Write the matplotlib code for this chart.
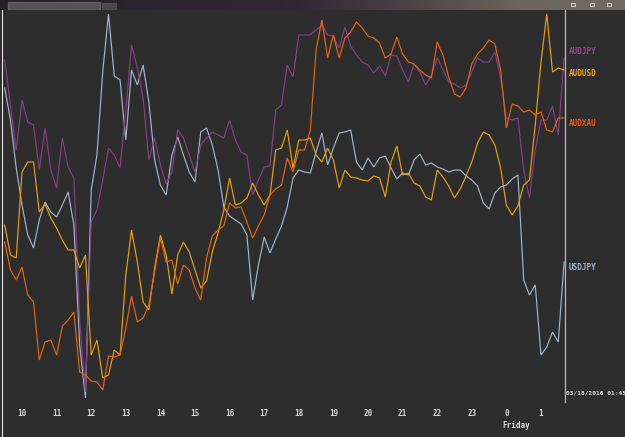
import numpy as np
import pandas as pd
import matplotlib
matplotlib.use("Agg")
import matplotlib.pyplot as plt
from matplotlib.patches import Rectangle

# ---- data (readings are vertical screen positions, larger = lower) ----
times = pd.date_range("2016-03-17 09:30", "2016-03-18 01:40", freq="10min")

usdjpy = [88, 120, 168, 205, 235, 248, 220, 202, 212, 217, 205, 192, 225, 345, 398, 190,
          155, 72, 14, 76, 80, 140, 70, 85, 65, 102, 160, 185, 195, 155, 137, 155,
          172, 182, 132, 128, 145, 170, 207, 216, 220, 224, 235, 300, 265, 237, 253, 239,
          226, 207, 178, 170, 172, 173, 152, 133, 165, 148, 133, 132, 130, 162, 170, 158,
          167, 158, 156, 168, 179, 173, 175, 160, 154, 165, 163, 167, 169, 172, 170, 170,
          176, 180, 186, 203, 209, 193, 187, 185, 179, 175, 280, 295, 285, 355, 347, 332,
          342, 262]

audjpy = [60, 105, 150, 100, 122, 125, 170, 128, 170, 188, 138, 167, 178, 320, 392, 222,
          210, 180, 148, 155, 168, 110, 45, 68, 98, 160, 138, 165, 184, 172, 130, 138,
          155, 172, 145, 138, 132, 135, 138, 120, 140, 152, 155, 195, 180, 167, 166, 110,
          105, 65, 77, 35, 35, 35, 30, 25, 35, 36, 48, 27, 46, 55, 62, 65,
          73, 66, 76, 55, 56, 70, 82, 64, 72, 85, 75, 58, 70, 82, 84, 88,
          85, 72, 58, 62, 62, 52, 78, 118, 120, 118, 170, 198, 150, 120, 120, 106,
          135, 58]

audusd = [225, 255, 258, 172, 162, 162, 212, 204, 218, 228, 240, 250, 250, 268, 255, 355,
          340, 378, 375, 350, 355, 275, 230, 262, 302, 310, 268, 235, 255, 294, 255, 242,
          252, 270, 288, 281, 252, 233, 210, 178, 205, 203, 198, 183, 195, 205, 195, 150,
          148, 130, 168, 140, 140, 138, 155, 162, 148, 160, 188, 170, 177, 178, 180, 181,
          176, 178, 197, 162, 146, 175, 173, 183, 186, 197, 200, 170, 177, 186, 198, 189,
          176, 162, 143, 132, 135, 145, 168, 205, 215, 206, 185, 180, 125, 62, 14, 72,
          68, 70]

audxau = [242, 270, 280, 267, 295, 302, 360, 342, 340, 355, 326, 320, 312, 372, 375, 381,
          382, 390, 356, 357, 355, 328, 296, 322, 318, 305, 272, 238, 262, 260, 284, 265,
          270, 288, 300, 258, 236, 230, 226, 203, 208, 207, 222, 238, 226, 215, 195, 189,
          185, 158, 172, 150, 150, 130, 50, 20, 58, 35, 58, 38, 32, 22, 28, 36,
          38, 43, 58, 54, 37, 54, 62, 64, 70, 75, 78, 42, 55, 77, 94, 97,
          88, 64, 54, 48, 40, 44, 70, 128, 104, 106, 112, 110, 115, 112, 130, 132,
          118, 118]

series_names = ["USDJPY", "AUDJPY", "AUDUSD", "AUDXAU"]
hour_ticks = list(range(10, 26))
hour_labels = ["10", "11", "12", "13", "14", "15", "16", "17", "18", "19",
               "20", "21", "22", "23", "0", "1"]

# ---- styling ----
BG = "#2d2d2d"
colors = {"USDJPY": "#a3b5cc", "AUDJPY": "#853f85", "AUDUSD": "#e9a10e", "AUDXAU": "#e8650f"}
label_y = {"AUDJPY": 52, "AUDUSD": 73, "AUDXAU": 124, "USDJPY": 267}
label_colors = {"USDJPY": "#9fb3d6", "AUDJPY": "#8e4a8e", "AUDUSD": "#f4a318", "AUDXAU": "#f05a14"}
MONO = dict(family="DejaVu Sans Mono", weight="bold")

W, H = 625, 437
fig = plt.figure(figsize=(W / 100, H / 100), dpi=100, facecolor=BG)

# title bar gradient
tb = fig.add_axes([0, 1 - 10 / H, 1, 10 / H])
stops_x = [0, 150, 300, 420, 520, 625]
stops_c = np.array([[38, 34, 40], [44, 36, 46], [52, 38, 52], [80, 70, 72], [108, 102, 92], [112, 106, 96]]) / 255
grad = np.stack([np.interp(np.arange(W), stops_x, stops_c[:, k]) for k in range(3)], axis=-1)
tb.imshow(grad[None, :, :], aspect="auto", extent=[0, W, 10, 0])
tb.add_patch(Rectangle((8, 2), 92, 8, color="#7b7b80", alpha=0.55))
tb.add_patch(Rectangle((102, 3), 14, 7, color="#6a6a70", alpha=0.5))
for bx in (573, 592, 609):
    tb.add_patch(Rectangle((bx - 2, 3), 4, 3, fill=False, ec="#e0e0e0", lw=0.6))
tb.set_xlim(0, W)
tb.set_ylim(10, 0)
tb.axis("off")

# main plot
ax = fig.add_axes([3 / W, 1 - 402 / H, 562 / W, 392 / H])
ax.set_facecolor(BG)
hours = (times - pd.Timestamp("2016-03-17")) / pd.Timedelta(hours=1)
data = {"USDJPY": usdjpy, "AUDJPY": audjpy, "AUDUSD": audusd, "AUDXAU": audxau}
for name in series_names:
    ax.plot(hours, data[name], color=colors[name], lw=0.85, solid_joinstyle="miter")

ax.set_xlim(9.451, 25.694)
ax.set_ylim(402, 10)
for side in ("top", "left", "bottom"):
    ax.spines[side].set_visible(False)
ax.spines["right"].set_color("#b8b8b8")
ax.spines["right"].set_linewidth(0.9)
ax.set_yticks([])
ax.set_xticks(hour_ticks)
ax.set_xticklabels(hour_labels, color="#d8d8d8", fontsize=5.5, **MONO)
ax.tick_params(axis="x", length=0, pad=5)

# left window border
fig.add_artist(plt.Line2D([2.2 / W, 2.2 / W], [0, 1 - 10 / H], color="#e8e8e8", lw=0.8))

# series labels
for name in series_names:
    fig.text(569 / W, 1 - label_y[name] / H, name, color=label_colors[name],
             fontsize=5.5, ha="left", va="center", **MONO)

fig.text(565.5 / W, 1 - 393 / H, "03/18/2016 01:45", color="#e0e0e0", fontsize=4.4,
         ha="left", va="center", **MONO)
fig.text(516 / W, 1 - 425 / H, "Friday", color="#e0e0e0", fontsize=5.5,
         ha="center", va="center", **MONO)

fig.savefig("out.png", dpi=100, facecolor=BG)
